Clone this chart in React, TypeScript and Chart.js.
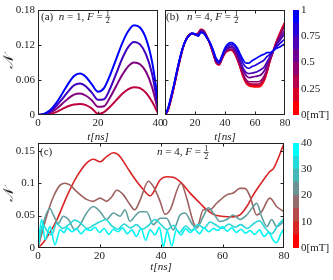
import React, { useEffect, useRef } from "react";
import { Chart, registerables } from "chart.js";
Chart.register(...registerables);

const W = 333;
const H = 280;
const FONT = '"Liberation Serif", "DejaVu Serif", serif';
const INK = "#1a1a1a";

// ---------- Panel (a): n=1, F=1/2, t in 0..40 ns ----------
const tA = [0, 2, 4, 6, 8, 10, 12, 14, 16, 18, 20, 22, 24, 26, 28, 30, 32, 34, 36, 38, 40];
const aB1 = [0, 0.002, 0.008, 0.02, 0.036, 0.053, 0.067, 0.071, 0.065, 0.052, 0.04, 0.046, 0.068, 0.095, 0.122, 0.143, 0.154, 0.15, 0.131, 0.092, 0.026];
const aB075 = [0, 0.0015, 0.006, 0.015, 0.027, 0.04, 0.051, 0.054, 0.049, 0.038, 0.026, 0.027, 0.045, 0.07, 0.096, 0.116, 0.125, 0.121, 0.104, 0.071, 0.013];
const aB05 = [0, 0.001, 0.004, 0.01, 0.019, 0.028, 0.035, 0.037, 0.033, 0.025, 0.014, 0.015, 0.03, 0.049, 0.068, 0.083, 0.09, 0.087, 0.074, 0.048, 0.008];
const aB025 = [0, 0.0005, 0.002, 0.005, 0.01, 0.015, 0.018, 0.019, 0.017, 0.011, 0.002, 0.005, 0.014, 0.025, 0.036, 0.044, 0.0475, 0.046, 0.038, 0.023, 0.003];
const aB0 = [0, 0, 0, 0, 0, 0, 0, 0, 0, 0, 0, 0, 0, 0, 0, 0, 0, 0, 0, 0, 0];
const aSeries = [aB1, aB075, aB05, aB025, aB0];
const aColors = ["rgb(0,0,255)", "rgb(64,0,191)", "rgb(128,0,128)", "rgb(191,0,64)", "rgb(255,0,0)"];
const aTicksX = [0, 20, 40];
const aTicksY = [0, 0.06, 0.12, 0.18];

// ---------- Panel (b): n=4, F=1/2, t in 0..80 ns ----------
const tB = [0, 2, 4, 6, 8, 10, 12, 14, 16, 18, 20, 22, 24, 26, 28, 30, 32, 34, 36, 38, 40, 42, 44, 46, 48, 50, 52, 54, 56, 58, 60, 62, 64, 66, 68, 70, 72, 74, 76, 78, 80];
const b7 = [0, 0.012, 0.032, 0.053, 0.077, 0.099, 0.117, 0.129, 0.136, 0.14, 0.139, 0.135, 0.141, 0.139, 0.132, 0.124, 0.112, 0.098, 0.092, 0.102, 0.115, 0.122, 0.124, 0.122, 0.116, 0.105, 0.095, 0.089, 0.089, 0.093, 0.096, 0.099, 0.102, 0.104, 0.107, 0.107, 0.11, 0.114, 0.116, 0.119, 0.122];
const b6 = [0, 0.011, 0.031, 0.052, 0.076, 0.098, 0.117, 0.129, 0.136, 0.14, 0.139, 0.136, 0.142, 0.14, 0.132, 0.124, 0.111, 0.096, 0.091, 0.101, 0.113, 0.119, 0.121, 0.119, 0.112, 0.1, 0.089, 0.082, 0.08, 0.083, 0.085, 0.088, 0.091, 0.094, 0.1, 0.104, 0.11, 0.116, 0.121, 0.126, 0.13];
const b5 = [0, 0.01, 0.029, 0.051, 0.075, 0.097, 0.116, 0.129, 0.136, 0.14, 0.139, 0.137, 0.144, 0.141, 0.133, 0.123, 0.109, 0.094, 0.089, 0.099, 0.111, 0.116, 0.118, 0.115, 0.107, 0.094, 0.081, 0.073, 0.071, 0.072, 0.073, 0.075, 0.078, 0.082, 0.091, 0.1, 0.109, 0.119, 0.126, 0.133, 0.14];
const b4 = [0, 0.009, 0.028, 0.05, 0.074, 0.096, 0.116, 0.129, 0.137, 0.14, 0.138, 0.138, 0.145, 0.142, 0.133, 0.123, 0.108, 0.093, 0.088, 0.098, 0.109, 0.114, 0.116, 0.113, 0.103, 0.091, 0.077, 0.068, 0.064, 0.065, 0.066, 0.067, 0.069, 0.075, 0.086, 0.098, 0.109, 0.12, 0.129, 0.138, 0.146];
const b3 = [0, 0.009, 0.027, 0.049, 0.073, 0.096, 0.115, 0.129, 0.137, 0.14, 0.138, 0.139, 0.146, 0.143, 0.134, 0.122, 0.107, 0.091, 0.087, 0.097, 0.108, 0.112, 0.113, 0.11, 0.1, 0.086, 0.071, 0.061, 0.057, 0.057, 0.057, 0.057, 0.059, 0.066, 0.079, 0.095, 0.108, 0.122, 0.133, 0.144, 0.153];
const b2 = [0, 0.008, 0.027, 0.049, 0.073, 0.095, 0.115, 0.129, 0.137, 0.14, 0.138, 0.14, 0.146, 0.144, 0.134, 0.122, 0.107, 0.091, 0.087, 0.097, 0.107, 0.111, 0.112, 0.109, 0.098, 0.084, 0.069, 0.058, 0.054, 0.053, 0.053, 0.053, 0.055, 0.063, 0.076, 0.094, 0.108, 0.123, 0.135, 0.146, 0.156];
const b1 = [0, 0.008, 0.026, 0.048, 0.072, 0.095, 0.115, 0.129, 0.137, 0.14, 0.138, 0.14, 0.147, 0.144, 0.134, 0.122, 0.106, 0.09, 0.086, 0.096, 0.106, 0.11, 0.112, 0.108, 0.097, 0.083, 0.067, 0.056, 0.052, 0.051, 0.05, 0.05, 0.052, 0.06, 0.074, 0.093, 0.108, 0.124, 0.136, 0.148, 0.158];
const b0 = [0, 0.008, 0.026, 0.048, 0.072, 0.095, 0.115, 0.129, 0.137, 0.14, 0.138, 0.14, 0.147, 0.144, 0.134, 0.122, 0.106, 0.09, 0.086, 0.096, 0.106, 0.11, 0.111, 0.107, 0.096, 0.082, 0.066, 0.055, 0.05, 0.049, 0.048, 0.048, 0.05, 0.058, 0.073, 0.092, 0.108, 0.124, 0.137, 0.149, 0.16];
const bSeries = [b7, b6, b5, b4, b3, b2, b1, b0];
const bColors = ["rgb(0,0,255)", "rgb(36,0,219)", "rgb(73,0,182)", "rgb(109,0,146)", "rgb(146,0,109)", "rgb(182,0,73)", "rgb(219,0,36)", "rgb(255,0,0)"];
const bTicksX = [0, 20, 40, 60, 80];

// ---------- Panel (c): n=4, F=1/2, several fields ----------
const cCyT = [0, 1.2, 2.3, 3.9, 5.5, 7.2, 8.5, 9.5, 11, 12.5, 14, 15.5, 17, 18.5, 20, 21.5, 23, 24.5, 26, 27.5, 29, 30.5, 32, 33.5, 35, 36.5, 38, 39.5, 40.8, 42, 43.5, 45, 46.5, 48, 49.5, 51, 52.5, 54, 55.5, 57, 58.5, 60, 61.5, 63, 64.5, 66, 67.5, 69, 70.5, 72, 73.5, 75, 76.5, 77.5, 79, 80];
const cCyV = [0, 0.044, 0.013, 0.033, 0.005, 0.028, 0.024, 0.031, 0.025, 0.03, 0.022, 0.029, 0.027, 0.032, 0.024, 0.03, 0.021, 0.029, 0.025, 0.031, 0.022, 0.028, 0.018, 0.03, 0.012, 0.028, 0.02, 0.032, 0.002, 0.026, 0.003, 0.028, 0.02, 0.03, 0.024, 0.029, 0.022, 0.031, 0.025, 0.03, 0.027, 0.033, 0.026, 0.031, 0.024, 0.029, 0.023, 0.027, 0.021, 0.028, 0.018, 0.024, 0.012, 0.008, 0.022, 0.03];
const cLtT = [0, 1.5, 3, 4.5, 6, 8, 10, 12, 14, 16, 18, 20, 22, 24, 26, 28, 30, 32, 34, 36, 38, 40, 42, 44, 46, 48, 50, 52, 54, 56, 58, 60, 62, 64, 66, 68, 70, 72, 74, 76, 78, 80];
const cLtV = [0, 0.036, 0.026, 0.02, 0.038, 0.03, 0.036, 0.043, 0.038, 0.03, 0.035, 0.04, 0.044, 0.034, 0.029, 0.037, 0.031, 0.036, 0.029, 0.035, 0.044, 0.036, 0.028, 0.035, 0.024, 0.034, 0.027, 0.036, 0.031, 0.04, 0.035, 0.03, 0.037, 0.032, 0.036, 0.03, 0.037, 0.042, 0.03, 0.022, 0.035, 0.045];
const cTeT = [0, 1.7, 3.9, 5, 6.6, 8.2, 9.9, 12, 13.7, 15.8, 18, 20.2, 22.3, 24.5, 26.7, 28.3, 29.9, 31.5, 33.2, 35.3, 37.5, 39.7, 41.8, 44, 46.2, 47.8, 50, 51.6, 53.8, 55.4, 57, 59.2, 61.4, 63.5, 65.7, 67.9, 70, 71.1, 72.7, 74.4, 76, 77.6, 79.2, 80];
const cTeV = [0, 0.038, 0.061, 0.051, 0.038, 0.049, 0.044, 0.028, 0.036, 0.054, 0.064, 0.056, 0.044, 0.054, 0.049, 0.059, 0.041, 0.049, 0.056, 0.056, 0.036, 0.046, 0.046, 0.028, 0.051, 0.054, 0.038, 0.031, 0.049, 0.062, 0.054, 0.041, 0.044, 0.051, 0.044, 0.051, 0.064, 0.069, 0.049, 0.033, 0.044, 0.033, 0.038, 0.041];
const cBrT = [0, 2.8, 5, 7.2, 8.8, 10.4, 12.6, 15.8, 18, 20.2, 22.3, 24, 25.6, 27.8, 29.9, 31.5, 33.2, 35.9, 37.5, 39.7, 41.3, 42.9, 46.5, 48.3, 50.5, 51.6, 53.8, 55.9, 58.1, 61.4, 63.5, 65.7, 67.3, 69, 71.1, 72.7, 75.4, 77.6, 80];
const cBrV = [0, 0.049, 0.079, 0.097, 0.1, 0.097, 0.087, 0.075, 0.072, 0.077, 0.072, 0.079, 0.089, 0.082, 0.067, 0.059, 0.074, 0.103, 0.095, 0.072, 0.052, 0.058, 0.1, 0.078, 0.04, 0.031, 0.059, 0.059, 0.069, 0.082, 0.085, 0.092, 0.092, 0.079, 0.051, 0.056, 0.077, 0.064, 0.056];
const cRedT = [0, 2, 4, 6, 9.3, 12.6, 15.8, 18, 20.2, 22.3, 24.5, 26.1, 28.8, 31, 34.3, 36.5, 39.7, 41.8, 44, 46.7, 49.4, 52.7, 54.9, 58.1, 63.5, 65.7, 67.9, 70, 73.3, 75.4, 76.5, 80];
const cRedV = [0, 0.01, 0.025, 0.042, 0.079, 0.11, 0.131, 0.137, 0.133, 0.141, 0.147, 0.144, 0.126, 0.11, 0.09, 0.0805, 0.105, 0.11, 0.109, 0.1, 0.085, 0.069, 0.059, 0.05, 0.048, 0.051, 0.064, 0.082, 0.105, 0.118, 0.122, 0.161];
const cTimes = [cCyT, cLtT, cTeT, cBrT, cRedT];
const cValues = [cCyV, cLtV, cTeV, cBrV, cRedV];
const cColors = ["rgb(0,245,245)", "rgb(40,215,215)", "rgb(96,159,159)", "rgb(159,96,96)", "rgb(218,36,36)"];
const cTicksX = [0, 20, 40, 60, 80];
const cTicksY = [0, 0.05, 0.1, 0.15];

// ---------- Colorbars ----------
const cbTopTicks = [0, 0.25, 0.5, 0.75, 1];
const cbTopColors = ["rgb(255,0,0)", "rgb(219,0,36)", "rgb(182,0,73)", "rgb(146,0,109)", "rgb(109,0,146)", "rgb(73,0,182)", "rgb(36,0,219)", "rgb(0,0,255)"];
const cbTopSteps = [0.125, 0.125, 0.125, 0.125, 0.125, 0.125, 0.125, 0.125];
const cbBotTicks = [0, 10, 20, 30, 40];
const cbBotColors = ["rgb(255,0,0)", "rgb(219,36,36)", "rgb(182,73,73)", "rgb(146,109,109)", "rgb(109,146,146)", "rgb(73,182,182)", "rgb(36,219,219)", "rgb(0,255,255)"];
const cbBotSteps = [5, 5, 5, 5, 5, 5, 5, 5];

// ---------- helpers ----------
const fmt = (v: any) => String(+Number(v).toFixed(4));
const fixedTicks = (arr: number[]) => (scale: any) => {
  scale.ticks = arr.map((v) => ({ value: v }));
};

const framePlugin = {
  id: "frame",
  afterDatasetsDraw(chart: any) {
    const { ctx, chartArea: a, scales } = chart;
    const xs = scales.x;
    const ys = scales.y;
    ctx.save();
    ctx.strokeStyle = "#222";
    ctx.lineWidth = 1;
    const L = Math.round(a.left) + 0.5;
    const R = Math.round(a.right) - 0.5;
    const T = Math.round(a.top) + 0.5;
    const B = Math.round(a.bottom) - 0.5;
    const tl = 3;
    ctx.beginPath();
    for (const t of xs.ticks) {
      const p = Math.round(xs.getPixelForValue(t.value)) + 0.5;
      if (p <= L + 1 || p >= R - 1) continue;
      ctx.moveTo(p, B);
      ctx.lineTo(p, B - tl);
      ctx.moveTo(p, T);
      ctx.lineTo(p, T + tl);
    }
    for (const t of ys.ticks) {
      const p = Math.round(ys.getPixelForValue(t.value)) + 0.5;
      if (p <= T + 1 || p >= B - 1) continue;
      ctx.moveTo(L, p);
      ctx.lineTo(L + tl, p);
      ctx.moveTo(R, p);
      ctx.lineTo(R - tl, p);
    }
    ctx.stroke();
    ctx.strokeRect(L, T, R - L, B - T);
    ctx.restore();
  },
};

type Part = { t?: string; it?: boolean; frac?: [string, string] };
const makeLabel = (id: string, items: { x: number; y: number; parts: Part[] }[]) => ({
  id,
  afterDraw(chart: any) {
    const ctx = chart.ctx;
    ctx.save();
    ctx.fillStyle = INK;
    ctx.textBaseline = "middle";
    for (const item of items) {
      let cx = item.x;
      const y = item.y;
      for (const p of item.parts) {
        if (p.frac) {
          ctx.font = `8px ${FONT}`;
          const w = Math.max(ctx.measureText(p.frac[0]).width, ctx.measureText(p.frac[1]).width) + 1;
          ctx.textAlign = "center";
          ctx.fillText(p.frac[0], cx + w / 2, y - 3.5);
          ctx.fillText(p.frac[1], cx + w / 2, y + 4.2);
          ctx.fillRect(cx, y - 0.2, w, 0.7);
          ctx.textAlign = "left";
          cx += w;
        } else {
          ctx.font = `${p.it ? "italic " : ""}11px ${FONT}`;
          ctx.textAlign = "left";
          ctx.fillText(p.t, cx, y);
          cx += ctx.measureText(p.t).width;
        }
      }
    }
    ctx.restore();
  },
});

const tickFont = { family: FONT, size: 11 };
const noGrid = { display: false, drawTicks: false, tickLength: 0 };

const xTitle = { display: true, text: "t[ns]", color: INK, padding: 0, font: { family: FONT, size: 11, style: "italic" as const } };
const yTitle = { display: true, text: "𝒩", color: INK, padding: 0, font: { family: '"DejaVu Serif", "DejaVu Sans", serif', size: 14, style: "italic" as const } };

const lineDatasets = (times: number[][], values: number[][], colors: string[], width: number) =>
  values.map((vals, i) => ({
    data: vals.map((v, j) => ({ x: times[i][j], y: v })),
    borderColor: colors[i],
    backgroundColor: colors[i],
    borderWidth: width,
    pointRadius: 0,
    fill: false,
    cubicInterpolationMode: "monotone" as const,
  }));

const baseOptions = (padding: any) => ({
  animation: false as const,
  responsive: false,
  events: [] as any[],
  layout: { padding },
  plugins: { legend: { display: false }, tooltip: { enabled: false } },
});

const configA = () => ({
  type: "line" as const,
  data: { datasets: lineDatasets(aSeries.map(() => tA), aSeries, aColors, 2) },
  options: {
    ...baseOptions({ left: 1, right: 175, top: 10, bottom: 136 }),
    scales: {
      x: {
        type: "linear" as const, min: 0, max: 40,
        afterBuildTicks: fixedTicks(aTicksX),
        afterFit: (s: any) => { s.height = 29; },
        grid: noGrid, border: { display: false },
        ticks: { font: tickFont, color: INK, padding: 2, maxRotation: 0, autoSkip: false, callback: fmt },
        title: xTitle,
      },
      y: {
        type: "linear" as const, min: 0, max: 0.18,
        afterBuildTicks: fixedTicks(aTicksY),
        afterFit: (s: any) => { s.width = 37; },
        grid: noGrid, border: { display: false },
        ticks: { font: tickFont, color: INK, padding: 3, autoSkip: false, callback: fmt },
        title: yTitle,
      },
    },
  },
  plugins: [
    framePlugin,
    makeLabel("labA", [{ x: 41, y: 17, parts: [{ t: "(a)" }, { t: "  " }, { t: "n", it: true }, { t: " = 1, " }, { t: "F", it: true }, { t: " = " }, { frac: ["1", "2"] }] }]),
  ],
});

const configB = () => ({
  type: "line" as const,
  data: { datasets: lineDatasets(bSeries.map(() => tB), bSeries, bColors, 1.7) },
  options: {
    ...baseOptions({ left: 165, right: 48, top: 10, bottom: 136 }),
    scales: {
      x: {
        type: "linear" as const, min: 0, max: 80,
        afterBuildTicks: fixedTicks(bTicksX),
        afterFit: (s: any) => { s.height = 29; },
        grid: noGrid, border: { display: false },
        ticks: { font: tickFont, color: INK, padding: 2, maxRotation: 0, autoSkip: false, callback: fmt },
        title: xTitle,
      },
      y: {
        type: "linear" as const, min: 0, max: 0.18,
        afterBuildTicks: fixedTicks(aTicksY),
        afterFit: (s: any) => { s.width = 0; },
        grid: noGrid, border: { display: false },
        ticks: { display: false },
      },
    },
  },
  plugins: [
    framePlugin,
    makeLabel("labB", [{ x: 166, y: 17, parts: [{ t: "(b)" }, { t: "   " }, { t: "n", it: true }, { t: " = 4, " }, { t: "F", it: true }, { t: " = " }, { frac: ["1", "2"] }] }]),
  ],
});

const configC = () => ({
  type: "line" as const,
  data: { datasets: lineDatasets(cTimes, cValues, cColors, 1.6) },
  options: {
    ...baseOptions({ left: 1, right: 49, top: 143, bottom: 6 }),
    scales: {
      x: {
        type: "linear" as const, min: 0, max: 80,
        afterBuildTicks: fixedTicks(cTicksX),
        afterFit: (s: any) => { s.height = 26; },
        grid: noGrid, border: { display: false },
        ticks: { font: tickFont, color: INK, padding: 2, maxRotation: 0, autoSkip: false, callback: fmt },
        title: xTitle,
      },
      y: {
        type: "linear" as const, min: 0, max: 0.162,
        afterBuildTicks: fixedTicks(cTicksY),
        afterFit: (s: any) => { s.width = 37; },
        grid: noGrid, border: { display: false },
        ticks: { font: tickFont, color: INK, padding: 3, autoSkip: false, callback: fmt },
        title: yTitle,
      },
    },
  },
  plugins: [
    framePlugin,
    makeLabel("labC", [
      { x: 40, y: 152.5, parts: [{ t: "(c)" }] },
      { x: 157, y: 152.5, parts: [{ t: "n", it: true }, { t: " = 4, " }, { t: "F", it: true }, { t: " = " }, { frac: ["1", "2"] }] },
    ]),
  ],
});

const configBar = (steps: number[], colors: string[], ticks: number[], max: number, top: number, bottom: number) => () => ({
  type: "bar" as const,
  data: {
    labels: [""],
    datasets: steps.map((s, i) => ({
      data: [s],
      backgroundColor: colors[i],
      borderWidth: 0,
      barPercentage: 1,
      categoryPercentage: 1,
      stack: "cb",
    })),
  },
  options: {
    ...baseOptions({ left: 293, right: 0, top, bottom }),
    scales: {
      x: { display: false, stacked: true },
      y: {
        position: "right" as const, stacked: true, min: 0, max,
        afterBuildTicks: fixedTicks(ticks),
        afterFit: (s: any) => { s.width = 34; },
        grid: noGrid, border: { display: false },
        ticks: {
          font: tickFont, color: INK, padding: 2, autoSkip: false,
          callback: (v: any) => (Number(v) === 0 ? "0[mT]" : fmt(v)),
        },
      },
    },
  },
});

function ChartCanvas({ make }: { make: () => any }) {
  const ref = useRef<HTMLCanvasElement>(null);
  useEffect(() => {
    const chart = new Chart(ref.current as HTMLCanvasElement, make());
    return () => chart.destroy();
  }, []);
  return (
    <canvas
      ref={ref}
      width={W}
      height={H}
      style={{ position: "absolute", left: 0, top: 0, width: W, height: H }}
    />
  );
}

export default function App() {
  return (
    <div style={{ position: "absolute", left: 0, top: 0, width: W, height: H, background: "#fff", overflow: "hidden" }}>
      <ChartCanvas make={configA} />
      <ChartCanvas make={configB} />
      <ChartCanvas make={configC} />
      <ChartCanvas make={configBar(cbTopSteps, cbTopColors, cbTopTicks, 1, 10, 165)} />
      <ChartCanvas make={configBar(cbBotSteps, cbBotColors, cbBotTicks, 40, 143, 32)} />
    </div>
  );
}
